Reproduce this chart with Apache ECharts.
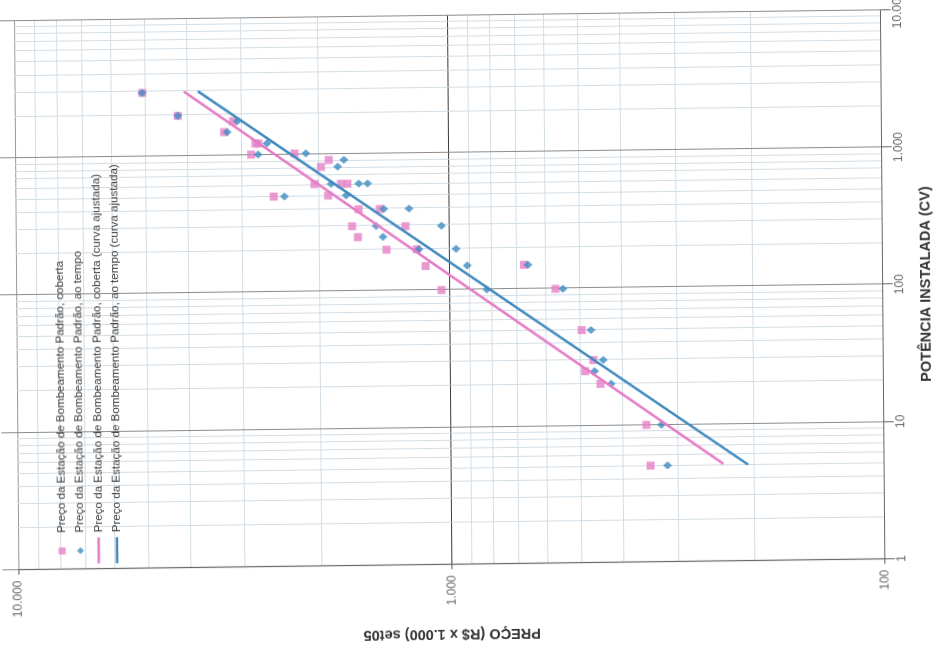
<!DOCTYPE html>
<html><head><meta charset="utf-8">
<script src="https://cdn.jsdelivr.net/npm/echarts@6/dist/echarts.min.js"></script>
<style>
html,body{margin:0;padding:0;background:#fff;overflow:hidden;width:937px;height:652px;}
#wrap{position:absolute;left:142.5px;top:-142.5px;width:652px;height:937px;transform-origin:50% 50%;
  transform:matrix(1,-0.0125,0.008,1,0,0) rotate(-90deg);}
</style></head><body>
<div id="wrap"></div>
<script>
// Potência instalada (CV) e preço (R$ x 1.000)
const potenciaCoberta = [2910, 1965, 1775, 1480, 1215, 1215, 1010, 1020, 908, 810, 607, 607, 607, 499, 497, 395, 395, 297, 294, 247, 199, 199, 150, 150, 100, 99.5, 49.5, 29.9, 24.8, 20, 9.95, 5.02];
const precoCoberta    = [5076, 4206, 3135, 3290, 2786, 2742, 2852, 2265, 1889, 1969, 2040, 1772, 1712, 1898, 2534, 1615, 1442, 1673, 1260, 1623, 1395, 1188, 1134, 672, 1043, 569, 496, 467, 488, 450, 353, 346];
const potenciaAoTempo = [2910, 1965, 1775, 1480, 1215, 1010, 1020, 908, 810, 607, 607, 607, 499, 497, 395, 395, 297, 294, 247, 199, 199, 150, 150, 100, 99.5, 49.5, 29.9, 24.8, 20, 9.95, 5.02];
const precoAoTempo    = [5076, 4206, 3064, 3238, 2619, 2748, 2132, 1744, 1803, 1867, 1612, 1539, 1724, 2394, 1413, 1235, 1472, 1041, 1421, 1175, 964, 909, 658, 819, 547, 472, 443, 464, 425, 326, 316];
// Curvas ajustadas (extremos)
const curvaCobertaPotencia = [2951, 5.1];
const curvaCobertaPreco    = [4070, 235];
const curvaAoTempoPotencia = [2958, 5.0];
const curvaAoTempoPreco    = [3778, 206];
const nomesSeries = [
  'Preço da Estação de Bombeamento Padrão, coberta',
  'Preço da Estação de Bombeamento Padrão, ao tempo',
  'Preço da Estação de Bombeamento Padrão, coberta (curva ajustada)',
  'Preço da Estação de Bombeamento Padrão, ao tempo (curva ajustada)'
];
const tituloX = 'POTÊNCIA INSTALADA (CV)';
const tituloY = 'PREÇO (R$ x 1.000) set05';

function fmt(v){ return String(Math.round(v)).replace(/\B(?=(\d{3})+(?!\d))/g,'.'); }
function pares(a,b){ return a.map((v,i)=>[v,b[i]]); }

const FONT = 'Arial, "Liberation Sans", sans-serif';
const chart = echarts.init(document.getElementById('wrap'), null, {renderer:'canvas'});
chart.setOption({
  animation:false,
  backgroundColor:'#fff',
  textStyle:{fontFamily:FONT},
  grid:{left:88.5, right:14.8, top:16, bottom:54.4, containLabel:false, outerBoundsMode:'none'},
  legend:{
    orient:'vertical', left:93.7, top:53.9, padding:0,
    itemWidth:26, itemHeight:7, itemGap:6.3, selectedMode:false,
    textStyle:{fontSize:11.6, lineHeight:12, color:'#3a3a3a', fontFamily:FONT},
    data:[
      {name:nomesSeries[0], icon:'path://M0,0h10v10h-10z'},
      {name:nomesSeries[1], icon:'path://M5,0L10,5L5,10L0,5Z'},
      {name:nomesSeries[2], icon:'path://M0,0h26v2.5h-26z'},
      {name:nomesSeries[3], icon:'path://M0,0h26v2.5h-26z'}
    ]
  },
  xAxis:[{
    type:'log', logBase:10, min:1, max:10000, position:'bottom',
    name:tituloX, nameLocation:'middle', nameGap:36,
    nameTextStyle:{fontWeight:'bold', fontSize:14.5, color:'#333', fontFamily:FONT},
    axisLine:{show:true, lineStyle:{color:'#666', width:1.2}},
    axisTick:{show:true, length:10, lineStyle:{color:'#666'}},
    axisLabel:{formatter:fmt, fontSize:12, color:'#666', margin:11, fontFamily:FONT},
    splitLine:{show:true, lineStyle:{color:'#8c8c8c', width:1}},
    minorTick:{show:false, splitNumber:9},
    minorSplitLine:{show:true, lineStyle:{color:'#d2dde5', width:1}}
  },{
    type:'log', logBase:10, min:1, max:10000, position:'top',
    axisLine:{show:false}, axisTick:{show:true, length:16, lineStyle:{color:'#8c8c8c'}},
    axisLabel:{show:false}, splitLine:{show:false}
  }],
  yAxis:{
    type:'log', logBase:10, min:100, max:10000, position:'left',
    name:tituloY, nameLocation:'middle', nameGap:62,
    nameTextStyle:{fontWeight:'bold', fontSize:14.5, color:'#333', fontFamily:FONT},
    axisLine:{show:true, lineStyle:{color:'#666', width:1.2}},
    axisTick:{show:true, length:5, lineStyle:{color:'#555'}},
    axisLabel:{formatter:fmt, fontSize:12, color:'#666', margin:11, fontFamily:FONT},
    splitLine:{show:true, lineStyle:{color:['#666','#3a3a3a','#999'], width:1.2}},
    minorTick:{show:false, splitNumber:9},
    minorSplitLine:{show:true, lineStyle:{color:'#d2dde5', width:1}}
  },
  series:[
    {name:nomesSeries[0], type:'scatter', symbol:'rect', symbolSize:8,
     itemStyle:{color:'#e67fc5'}, data:pares(potenciaCoberta, precoCoberta)},
    {name:nomesSeries[1], type:'scatter', symbol:'diamond', symbolSize:[8,9],
     itemStyle:{color:'#3d8bc2'}, data:pares(potenciaAoTempo, precoAoTempo)},
    {name:nomesSeries[2], type:'line', symbol:'none', showSymbol:false,
     lineStyle:{color:'#e57bc6', width:2.5}, itemStyle:{color:'#e57bc6'},
     data:pares(curvaCobertaPotencia, curvaCobertaPreco)},
    {name:nomesSeries[3], type:'line', symbol:'none', showSymbol:false,
     lineStyle:{color:'#3f88bd', width:2.5}, itemStyle:{color:'#3f88bd'},
     data:pares(curvaAoTempoPotencia, curvaAoTempoPreco)}
  ]
});
</script>
</body></html>
